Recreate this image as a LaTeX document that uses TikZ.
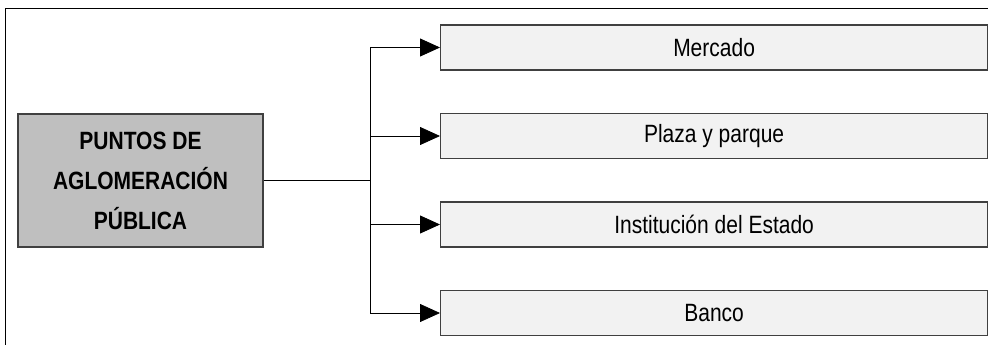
\documentclass[tikz,border=0pt]{standalone}
\usepackage{fontspec}
\setmainfont{Liberation Sans}[FakeStretch=0.84]
\usetikzlibrary{arrows.meta}
\begin{document}
\begin{tikzpicture}[x=1pt,y=-1pt,
  item/.style={draw=black!75, fill=black!5, line width=1.2pt, minimum width=547pt, minimum height=45pt, inner sep=0pt, font=\fontsize{25}{28}\selectfont, anchor=west},
  main/.style={draw=black!75, fill=black!25, line width=1.2pt, minimum width=245pt, minimum height=133pt, inner sep=0pt, align=center, font=\fontsize{25}{40}\selectfont\bfseries},
  conn/.style={line width=0.8pt, draw=black},
  arr/.style={conn, -{Triangle[length=20pt,width=18pt]}}]
\useasboundingbox (0,0) rectangle (988,345);
\draw[line width=1pt] (5,345) -- (5,9) -- (988,9);
\node[main] (m) at (140.5,180.5) {PUNTOS DE\\AGLOMERACIÓN\\PÚBLICA};
\node[item] (a) at (440,47.5) {Mercado};
\node[item] (b) at (440,136) {Plaza y parque};
\node[item] (c) at (440,224.5) {Institución del Estado};
\node[item] (d) at (440,313) {Banco};
\coordinate (j) at (370,180.5);
\draw[conn] (m.east) -- (j);
\draw[arr] (j) |- (a.west);
\draw[arr] (j) |- (d.west);
\draw[arr] (j |- b.west) -- (b.west);
\draw[arr] (j |- c.west) -- (c.west);
\end{tikzpicture}
\end{document}
